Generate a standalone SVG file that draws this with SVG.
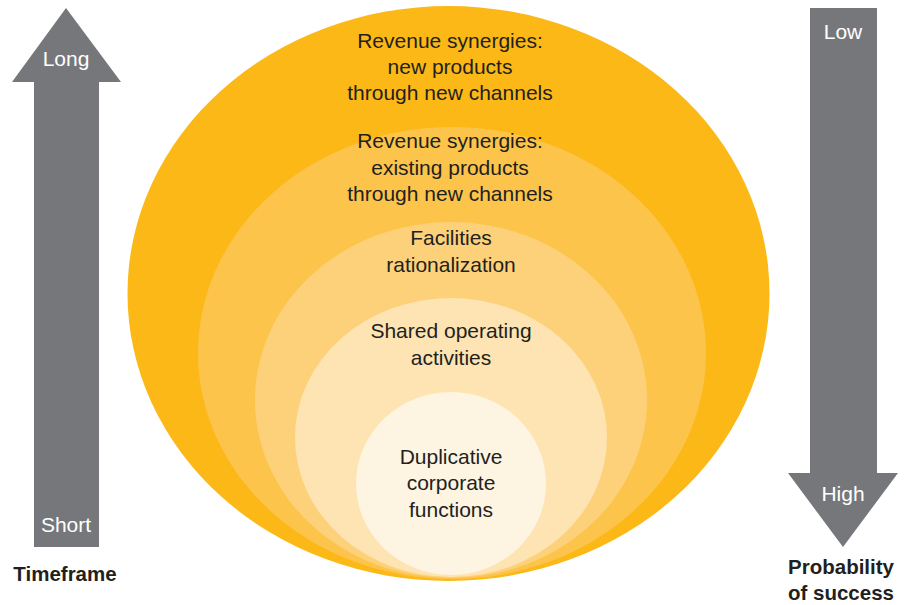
<svg xmlns="http://www.w3.org/2000/svg" width="909" height="605" viewBox="0 0 909 605">
  <style>
    .lbl { font-family: "Liberation Sans", Arial, sans-serif; font-size: 21px; fill: #231F20; text-anchor: middle; }
    .arw { fill: #76777B; }
    .arwtxt { font-family: "Liberation Sans", Arial, sans-serif; font-size: 21px; fill: #FFFFFF; text-anchor: middle; }
    .axis { font-family: "Liberation Sans", Arial, sans-serif; font-size: 20.5px; font-weight: bold; fill: #231F20; text-anchor: middle; }
  </style>
  <rect width="909" height="605" fill="#FFFFFF"/>

  <!-- Timeframe arrow (up) -->
  <g id="timeframe">
    <polygon class="arw" points="66,8 121,82 99,82 99,547 34,547 34,82 12,82"/>
    <text class="arwtxt" x="66" y="66">Long</text>
    <text class="arwtxt" x="66" y="532">Short</text>
    <text class="axis" x="65" y="581">Timeframe</text>
  </g>

  <!-- Probability arrow (down) -->
  <g id="probability">
    <polygon class="arw" points="810,8 877,8 877,473 898,473 843,547 788,473 810,473"/>
    <text class="arwtxt" x="843" y="39">Low</text>
    <text class="arwtxt" x="843" y="501">High</text>
    <text class="axis" x="841" y="574">Probability</text>
    <text class="axis" x="841" y="600">of success</text>
  </g>

  <!-- Nested synergy ellipses, outermost first -->
  <g id="new-products">
    <ellipse cx="448.5" cy="293.5" rx="321" ry="287.5" fill="#FBB817"/>
    <text class="lbl" x="450" y="48">Revenue synergies:</text>
    <text class="lbl" x="450" y="74">new products</text>
    <text class="lbl" x="450" y="100">through new channels</text>
  </g>
  <g id="existing-products">
    <ellipse cx="452" cy="353" rx="254" ry="226" fill="#FCC44B"/>
    <text class="lbl" x="450" y="148">Revenue synergies:</text>
    <text class="lbl" x="450" y="175">existing products</text>
    <text class="lbl" x="450" y="201">through new channels</text>
  </g>
  <g id="facilities">
    <ellipse cx="451" cy="400" rx="196" ry="178" fill="#FDD17A"/>
    <text class="lbl" x="451" y="245">Facilities</text>
    <text class="lbl" x="451" y="272">rationalization</text>
  </g>
  <g id="shared-operating">
    <ellipse cx="451" cy="437.5" rx="156" ry="139.5" fill="#FEE4B3"/>
    <text class="lbl" x="451" y="338">Shared operating</text>
    <text class="lbl" x="451" y="365">activities</text>
  </g>
  <g id="duplicative">
    <ellipse cx="451" cy="483.5" rx="95" ry="91.5" fill="#FEF4E2"/>
    <text class="lbl" x="451" y="464">Duplicative</text>
    <text class="lbl" x="451" y="490">corporate</text>
    <text class="lbl" x="451" y="517">functions</text>
  </g>

  <g id="connectors"/>
</svg>
